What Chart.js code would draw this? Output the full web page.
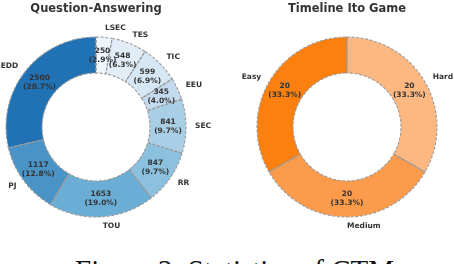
<!DOCTYPE html>
<html>
<head>
<meta charset="utf-8">
<script src="https://cdn.jsdelivr.net/npm/chart.js@4.4.1/dist/chart.umd.min.js"></script>
<style>
  html, body { margin: 0; padding: 0; background: #fff; overflow: hidden; }
  body { width: 454px; height: 264px; position: relative; }
  canvas { position: absolute; top: 0; }
  #qa { left: 0; }
  #ito { left: 227px; }
  .caption {
    position: absolute; left: 75px; top: 256px;
    font-family: "Liberation Serif", "DejaVu Serif", serif;
    font-size: 29px; line-height: 1; color: #111; white-space: nowrap;
  }
</style>
</head>
<body>
<canvas id="qa" width="227" height="254"></canvas>
<canvas id="ito" width="227" height="254"></canvas>
<div class="caption">Figure 2: Statistics of CTM</div>
<script>
// Question-Answering 子任务
const qaLabels = ['LSEC', 'TES', 'TIC', 'EEU', 'SEC', 'RR', 'TOU', 'PJ', 'EDD'];
const qaValues = [250, 548, 599, 345, 841, 847, 1653, 1117, 2500];
const qaColors = ['#eef5fc', '#e2edf8', '#d5e6f4', '#c4dbef', '#a9cfe6', '#8cc0df', '#6aaed6', '#4a93c6', '#2171b5'];

// Timeline Ito Game 难度
const itoLabels = ['Hard', 'Medium', 'Easy'];
const itoValues = [20, 20, 20];
const itoColors = ['#fdb882', '#fd9b4c', '#fb800f'];

const TEXT = '#333333';
const FONT = '"DejaVu Sans", sans-serif';

// 虚线边框 + 标签 + 标题
const pieText = {
    id: 'pieText',
    afterDatasetsDraw(chart, args, opts) {
        const ctx = chart.ctx;
        const meta = chart.getDatasetMeta(0);
        const values = chart.data.datasets[0].data;
        const total = values.reduce((a, b) => a + b, 0);

        ctx.save();
        ctx.strokeStyle = '#9a9a9a';
        ctx.lineWidth = 1.1;
        ctx.setLineDash([3, 1.6]);
        meta.data.forEach(function (arc) {
            const p = arc.getProps(['x', 'y', 'startAngle', 'endAngle', 'innerRadius', 'outerRadius']);
            ctx.beginPath();
            ctx.arc(p.x, p.y, p.outerRadius, p.startAngle, p.endAngle);
            ctx.arc(p.x, p.y, p.innerRadius, p.endAngle, p.startAngle, true);
            ctx.closePath();
            ctx.stroke();
        });
        ctx.restore();

        ctx.save();
        ctx.fillStyle = TEXT;
        meta.data.forEach(function (arc, i) {
            const p = arc.getProps(['x', 'y', 'startAngle', 'endAngle', 'outerRadius']);
            const mid = (p.startAngle + p.endAngle) / 2;
            const cx = Math.cos(mid), cy = Math.sin(mid);

            // 外部类别标签
            ctx.font = 'bold 7.5px ' + FONT;
            ctx.textBaseline = 'middle';
            ctx.textAlign = cx > 0 ? 'left' : 'right';
            ctx.fillText(chart.data.labels[i], p.x + cx * p.outerRadius * 1.1, p.y + cy * p.outerRadius * 1.1);

            // 内部数值 + 百分比
            const vx = p.x + cx * p.outerRadius * 0.8;
            const vy = p.y + cy * p.outerRadius * 0.8;
            const pct = (values[i] / total * 100).toFixed(1);
            ctx.textAlign = 'center';
            ctx.fillText(String(values[i]), vx, vy - 4.5);
            ctx.fillText('(' + pct + '%)', vx, vy + 4.5);
        });

        // 标题
        ctx.font = 'bold 11.5px ' + FONT;
        ctx.textAlign = 'center';
        ctx.textBaseline = 'middle';
        ctx.fillText(opts.title, meta.data[0].x, 9);
        ctx.restore();
    }
};

function makeDonut(id, labels, values, colors, title, padding) {
    return new Chart(document.getElementById(id), {
        type: 'doughnut',
        data: {
            labels: labels,
            datasets: [{
                data: values,
                backgroundColor: colors,
                borderWidth: 0,
                hoverOffset: 0,
                offset: 0
            }]
        },
        options: {
            responsive: false,
            animation: false,
            events: [],
            cutout: '60%',
            layout: { padding: padding },
            plugins: {
                legend: { display: false },
                tooltip: { enabled: false },
                pieText: { title: title }
            }
        },
        plugins: [pieText]
    });
}

makeDonut('qa', qaLabels, qaValues, qaColors, 'Question-Answering', { left: 6, right: 41, top: 37, bottom: 37 });
makeDonut('ito', itoLabels, itoValues, itoColors, 'Timeline Ito Game', { left: 30, right: 17, top: 37, bottom: 37 });
</script>
</body>
</html>
